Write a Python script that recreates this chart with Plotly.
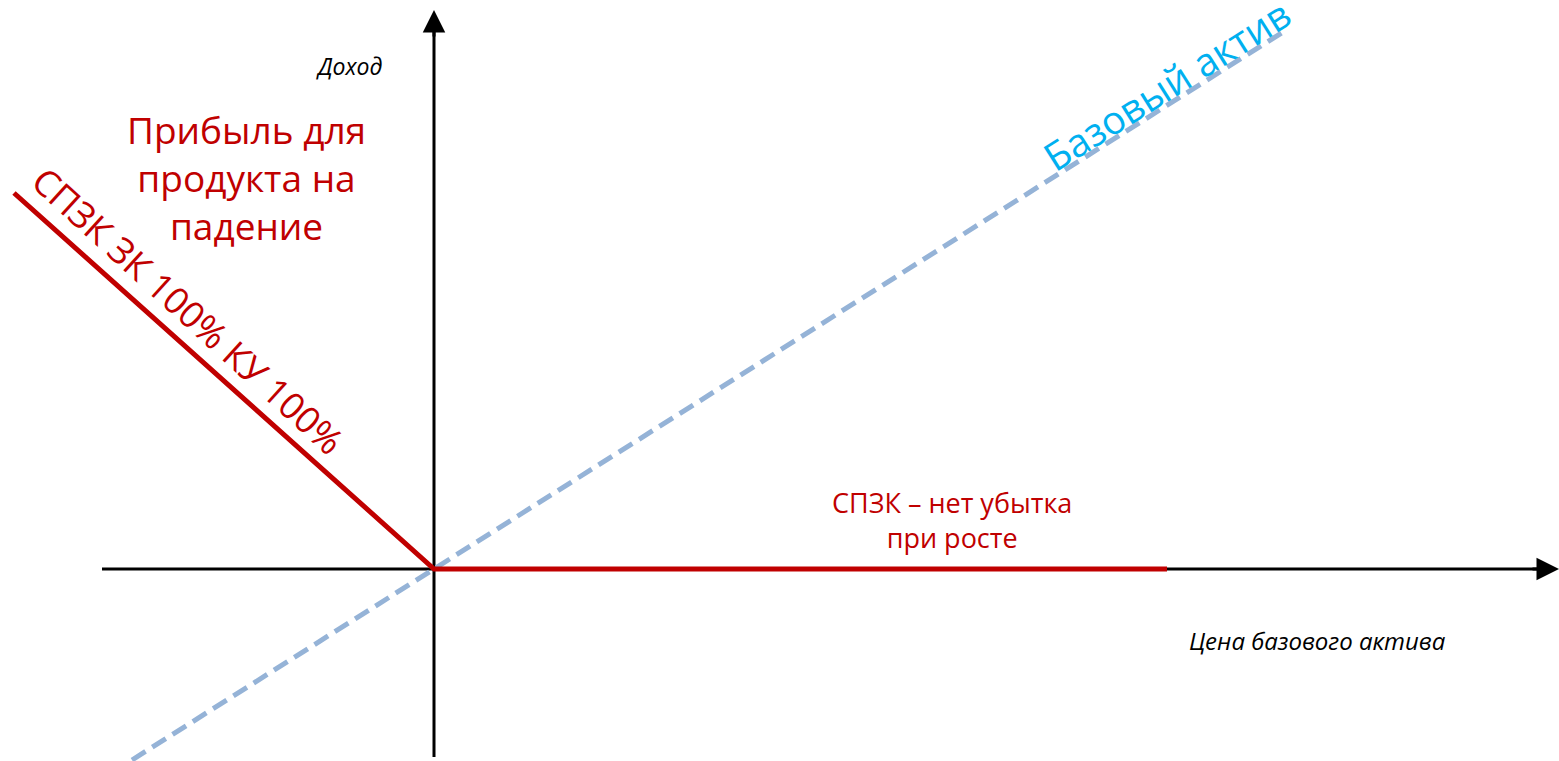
import plotly.graph_objects as go

# Data (units: arbitrary price / payoff units, origin at strike)
product_price = [-4.20, 0.0, 7.33]
product_payoff = [3.76, 0.0, 0.0]
underlying_price = [-3.02, 8.49]
underlying_payoff = [-1.91, 5.37]

axis_x_range = [-3.32, 11.25]
axis_y_range = [-1.88, 5.59]

W, H = 1559, 761
X0, Y0 = 434, 569  # pixel position of origin
S = 100.0


def X(px):
    return (px - X0) / S


def Y(py):
    return (Y0 - py) / S


fig = go.Figure()

fig.add_trace(go.Scatter(
    x=underlying_price, y=underlying_payoff, mode="lines",
    line=dict(color="#95B3D7", width=5, dash="16px,8px"),
    hoverinfo="skip", showlegend=False))

fig.add_trace(go.Scatter(
    x=product_price, y=product_payoff, mode="lines",
    line=dict(color="#C00000", width=5),
    hoverinfo="skip", showlegend=False))

shapes = [
    dict(type="line", xref="x", yref="y", layer="below",
         x0=axis_x_range[0], y0=0, x1=axis_x_range[1] - 0.12, y1=0,
         line=dict(color="black", width=3)),
    dict(type="line", xref="x", yref="y", layer="below",
         x0=0, y0=axis_y_range[0], x1=0, y1=axis_y_range[1] - 0.12,
         line=dict(color="black", width=3)),
]

annotations = [
    # arrowheads
    dict(x=axis_x_range[1], y=0, ax=-28, ay=0,
         xref="x", yref="y", showarrow=True,
         arrowhead=2, arrowsize=1.5, arrowwidth=3, arrowcolor="black", text=""),
    dict(x=0, y=axis_y_range[1], ax=0, ay=28,
         xref="x", yref="y", showarrow=True,
         arrowhead=2, arrowsize=1.5, arrowwidth=3, arrowcolor="black", text=""),
    dict(x=X(349), y=Y(66), xref="x", yref="y", showarrow=False,
         text="<i>Доход</i>", font=dict(family="Open Sans", size=23, color="black")),
    dict(x=X(1317), y=Y(640), xref="x", yref="y", showarrow=False,
         text="<i>Цена базового актива</i>", font=dict(family="Open Sans", size=24, color="black")),
    dict(x=X(246), y=Y(177), xref="x", yref="y", showarrow=False,
         text="Прибыль для<br>продукта на<br>падение", align="center",
         font=dict(family="Open Sans", size=37, color="#C00000")),
    dict(x=X(188), y=Y(310), xref="x", yref="y", showarrow=False, textangle=42.3,
         text="СПЗК ЗК 100% КУ 100%",
         font=dict(family="Open Sans", size=36.5, color="#C00000")),
    dict(x=X(1166), y=Y(84), xref="x", yref="y", showarrow=False, textangle=-32.3,
         text="Базовый актив",
         font=dict(family="Open Sans", size=39, color="#00B0F0")),
    dict(x=X(952), y=Y(520), xref="x", yref="y", showarrow=False,
         text="СПЗК – нет убытка<br>при росте", align="center",
         font=dict(family="Open Sans", size=27, color="#C00000")),
]

fig.update_layout(
    width=W, height=H,
    margin=dict(l=0, r=0, t=0, b=0),
    paper_bgcolor="white", plot_bgcolor="white",
    xaxis=dict(range=[X(0), X(W)], visible=False, fixedrange=True),
    yaxis=dict(range=[Y(H), Y(0)], visible=False, fixedrange=True),
    shapes=shapes,
    annotations=annotations,
    showlegend=False,
)

fig.write_html("out.html", config={"displayModeBar": False},
               post_script="document.body.style.margin='0';document.body.style.overflow='hidden';")
